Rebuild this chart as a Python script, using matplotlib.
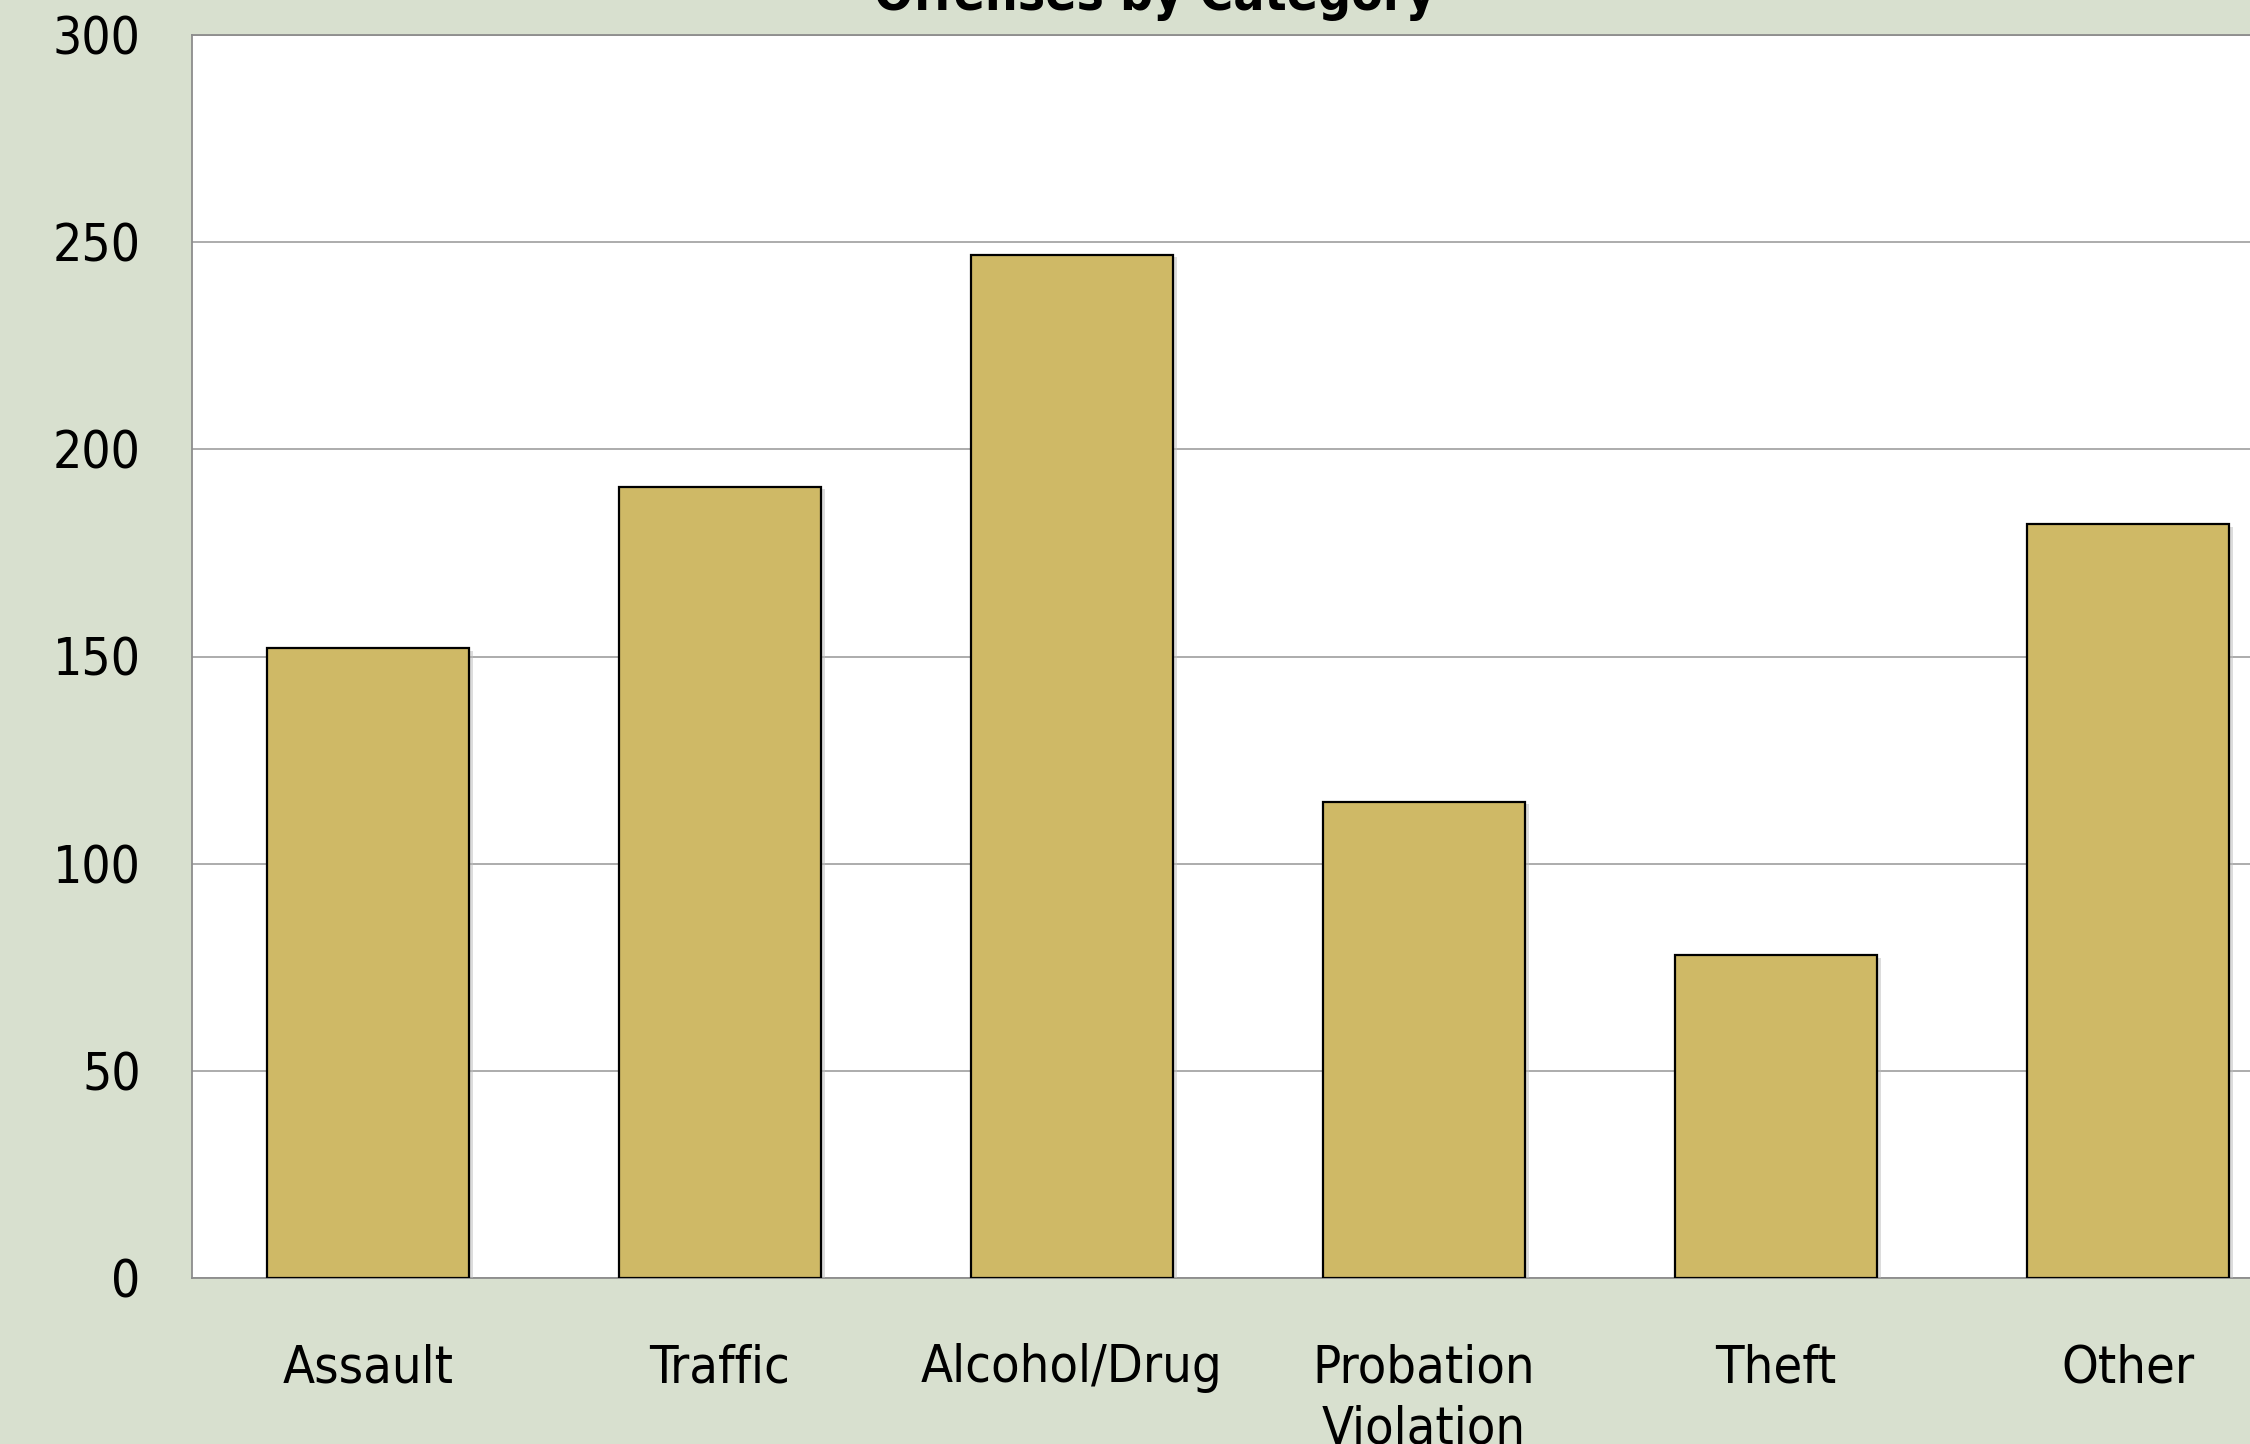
import matplotlib
matplotlib.use("Agg")
import matplotlib.pyplot as plt
import matplotlib.patheffects as pe

categories = ["Assault", "Traffic", "Alcohol/Drug", "Probation\nViolation", "Theft", "Other"]
offenses = [152, 191, 247, 115, 78, 182]
y_ticks = [0, 50, 100, 150, 200, 250, 300]

BG = "#D8E0CF"
BAR = "#CFB966"
FONT = ["DejaVu Sans"]
STRETCH = "condensed"

W, H = 2250, 1444
fig = plt.figure(figsize=(W / 100, H / 100), dpi=100, facecolor=BG)

# plot area runs past the right edge of the canvas
left, right, top, bottom = 192, 2304, 35, 1278
ax = fig.add_axes([left / W, 1 - bottom / H, (right - left) / W, (bottom - top) / H])
ax.set_facecolor("white")

x = range(len(categories))
bars = ax.bar(x, offenses, width=0.574, color=BAR, edgecolor="black",
              linewidth=1.6, zorder=3)
for b in bars:
    b.set_path_effects([pe.SimplePatchShadow(offset=(3, -2), shadow_rgbFace="#bbbbbb", alpha=0.5),
                        pe.Normal()])

ax.set_xlim(-0.5, len(categories) - 0.5)
ax.set_ylim(0, 300)
ax.set_yticks(y_ticks)
ax.set_xticks(list(x))
ax.set_xticklabels(categories, fontfamily=FONT, fontstretch=STRETCH, fontsize=37.5, linespacing=1.3)
ax.set_yticklabels([str(v) for v in y_ticks], fontfamily=FONT, fontstretch=STRETCH, fontsize=37)
ax.tick_params(axis="both", length=0, colors="black")
ax.tick_params(axis="y", pad=37)
ax.tick_params(axis="x", pad=47)
for lbl in ax.get_xticklabels():
    lbl.set_verticalalignment("top")

ax.yaxis.grid(True, color="#a6a6a6", linewidth=1.3, zorder=0)
ax.set_axisbelow(True)
for side in ("left", "top", "bottom", "right"):
    ax.spines[side].set_color("#8c8c8c")
    ax.spines[side].set_linewidth(1.3)

fig.text(1155 / W, 1 - 10 / H, "Offenses by Category", ha="center", va="baseline",
         fontfamily=FONT, fontstretch=STRETCH, fontsize=37, fontweight="bold")

fig.savefig("out.png", dpi=100, facecolor=BG)
